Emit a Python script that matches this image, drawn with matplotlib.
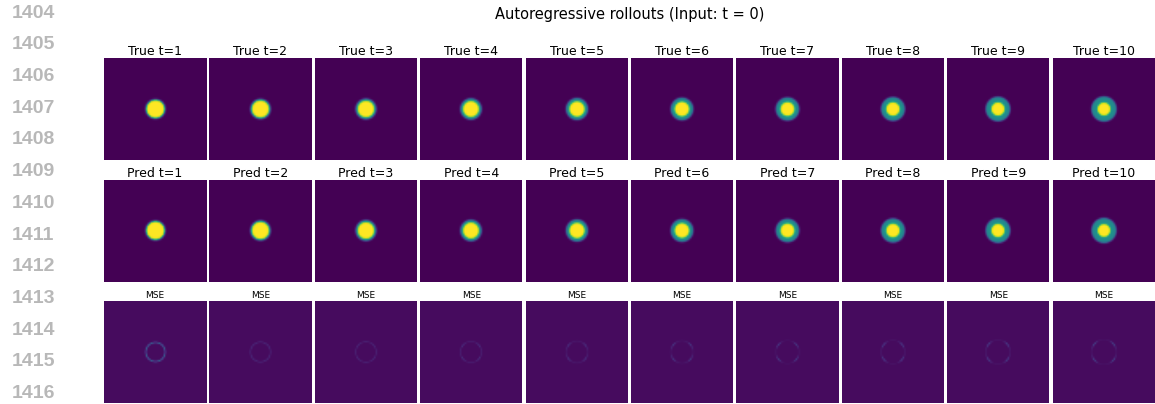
import numpy as np
import matplotlib
matplotlib.use("Agg")
import matplotlib.pyplot as plt

# time steps shown in the rollout
steps = [1, 2, 3, 4, 5, 6, 7, 8, 9, 10]

# radii (in grid cells, 64x64 grid)
true_core_r = [5.6, 5.4, 5.2, 5.0, 4.8, 4.6, 4.4, 4.3, 4.2, 4.1]
true_outer_r = [6.0, 6.2, 6.4, 6.6, 6.8, 7.0, 7.2, 7.4, 7.6, 7.8]
pred_core_r = [5.6, 5.4, 5.2, 5.0, 4.8, 4.6, 4.4, 4.3, 4.2, 4.0]
pred_outer_r = [6.0, 6.2, 6.4, 6.6, 6.8, 7.0, 7.2, 7.4, 7.6, 7.7]
ring_level = [0.48, 0.48, 0.48, 0.48, 0.48, 0.48, 0.48, 0.48, 0.48, 0.48]

# mse panels: strength of the thin ring and of the spotty pattern
mse_ring = [0.28, 0.08, 0.06, 0.04, 0.03, 0.03, 0.02, 0.02, 0.02, 0.02]
mse_spot = [0.00, 0.02, 0.05, 0.16, 0.22, 0.26, 0.30, 0.33, 0.35, 0.36]

line_numbers = ["1404", "1405", "1406", "1407", "1408", "1409", "1410",
                "1411", "1412", "1413", "1414", "1415", "1416"]

title = "Autoregressive rollouts (Input: t = 0)"

n = 64
yy, xx = np.mgrid[0:n, 0:n]
rr = np.hypot(xx - 31.5, yy - 31.5)
th = np.arctan2(yy - 31.5, xx - 31.5)


def field(core, outer, lvl, w=0.55):
    ring = lvl * 0.5 * (1 - np.tanh((rr - outer) / w))
    core_part = (1 - lvl) * 0.5 * (1 - np.tanh((rr - core) / w))
    return ring + core_part


def mse_field(radius, ring_amp, spot_amp):
    band = np.exp(-((rr - radius) / 0.45) ** 2)
    ang = 0.6 * (0.5 - 0.5 * np.cos(4 * th)) + 0.4 * np.cos(th) ** 2
    return band * (ring_amp + spot_amp * ang ** 4)


W, H = 1155, 404
fig = plt.figure(figsize=(W / 100, H / 100), dpi=100)

x0, pitch, pw, ph = 104, 105.4, 102, 102
row_tops = [58, 180, 301]

for i, t in enumerate(steps):
    left = (x0 + i * pitch) / W
    imgs = [
        (field(true_core_r[i], true_outer_r[i], ring_level[i]), "True t=%d" % t, 9),
        (field(pred_core_r[i], pred_outer_r[i], ring_level[i]), "Pred t=%d" % t, 9),
        (mse_field(true_outer_r[i], mse_ring[i], mse_spot[i]), "MSE", 6.5),
    ]
    for r, (img, lab, fs) in enumerate(imgs):
        ax = fig.add_axes([left, 1 - (row_tops[r] + ph) / H, pw / W, ph / H])
        if r < 2:
            ax.imshow(img, cmap="viridis", vmin=0, vmax=1,
                      interpolation="bilinear", aspect="auto")
        else:
            ax.imshow(img, cmap="viridis", vmin=-0.03, vmax=1.0,
                      interpolation="bilinear", aspect="auto")
        ax.set_title(lab, fontsize=fs, pad=2)
        ax.axis("off")

fig.text(630 / W, 1 - 14 / H, title, ha="center", va="center", fontsize=10.5)

for k, s in enumerate(line_numbers):
    fig.text(12 / W, 1 - (13.2 + 31.7 * k) / H, s, ha="left", va="center",
             fontsize=14, fontweight="bold", color="#b8b8b8",
             family="Liberation Sans")

fig.savefig("out.png", dpi=100)
